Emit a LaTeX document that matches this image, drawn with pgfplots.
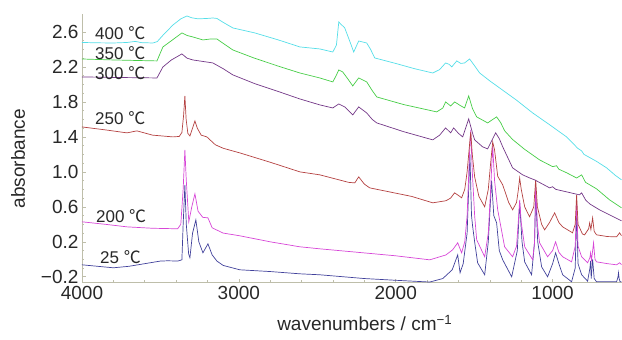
\documentclass[border=0pt]{standalone}
\usepackage{fontspec}
\setmainfont{Liberation Sans}
\newfontfamily\cjk{Noto Sans CJK SC}
\usepackage{pgfplots}
\usepackage{pgfplotstable}
\pgfplotsset{compat=1.18}
\definecolor{c400}{RGB}{85,222,232}
\definecolor{c350}{RGB}{70,205,70}
\definecolor{c300}{RGB}{115,55,135}
\definecolor{c250}{RGB}{180,65,65}
\definecolor{c200}{RGB}{215,70,215}
\definecolor{c25}{RGB}{65,65,155}
\definecolor{axc}{RGB}{190,190,170}
\definecolor{txt}{RGB}{40,40,40}

\pgfplotstableread{
wn a
4000 2.480
3900 2.476
3800 2.474
3713 2.480
3660 2.492
3620 2.478
3548 2.474
3520 2.490
3480 2.570
3420 2.680
3370 2.750
3331 2.783
3300 2.762
3260 2.750
3200 2.755
3166 2.760
3140 2.755
3100 2.710
3038 2.646
2900 2.590
2750 2.510
2611 2.429
2484 2.406
2401 2.371
2378 2.450
2363 2.714
2350 2.690
2325 2.646
2290 2.480
2268 2.371
2236 2.497
2185 2.474
2160 2.400
2134 2.303
2000 2.240
1880 2.180
1764 2.131
1720 2.170
1682 2.246
1660 2.230
1643 2.200
1611 2.269
1585 2.240
1561 2.246
1529 2.291
1500 2.220
1465 2.131
1400 2.040
1338 1.960
1230 1.820
1127 1.674
1020 1.540
911 1.400
840 1.270
815 1.240
800 1.200
720 1.120
656 1.046
600 0.960
561 0.909
}\tblA

\pgfplotstableread{
wn a
4000 2.291
3800 2.280
3600 2.272
3522 2.269
3484 2.429
3430 2.500
3363 2.589
3330 2.560
3293 2.543
3229 2.509
3180 2.520
3140 2.520
3100 2.470
3038 2.394
2900 2.300
2750 2.210
2611 2.131
2484 2.074
2401 2.029
2380 2.100
2363 2.166
2338 2.143
2300 2.050
2274 1.983
2236 2.074
2185 2.029
2150 1.930
2121 1.857
1950 1.770
1739 1.686
1700 1.730
1682 1.800
1650 1.754
1624 1.800
1590 1.760
1561 1.731
1535 1.869
1510 1.720
1484 1.629
1414 1.560
1357 1.629
1330 1.560
1306 1.470
1255 1.370
1180 1.260
1083 1.137
1000 1.060
975 1.070
960 1.030
911 0.990
847 0.930
815 0.966
790 0.880
720 0.806
637 0.680
561 0.589
}\tblB

\pgfplotstableread{
wn a
4000 2.086
3800 2.080
3600 2.076
3522 2.074
3484 2.200
3430 2.280
3363 2.349
3330 2.300
3293 2.280
3166 2.246
3100 2.180
3038 2.109
2900 2.010
2750 1.920
2611 1.834
2484 1.766
2401 1.731
2363 1.777
2325 1.743
2274 1.651
2236 1.743
2185 1.674
2150 1.600
2121 1.560
1950 1.460
1764 1.366
1720 1.420
1682 1.503
1650 1.446
1631 1.503
1600 1.440
1573 1.400
1535 1.606
1510 1.440
1497 1.366
1446 1.286
1414 1.263
1363 1.446
1340 1.380
1318 1.286
1255 1.046
1191 0.966
1147 0.931
1115 0.909
1019 0.817
1000 0.830
980 0.800
828 0.737
815 0.760
790 0.680
764 0.634
701 0.566
561 0.440
}\tblC

\pgfplotstableread{
wn a
4000 1.514
3850 1.480
3713 1.446
3650 1.469
3550 1.420
3420 1.400
3380 1.405
3363 1.450
3352 1.650
3344 1.869
3336 1.600
3325 1.440
3312 1.411
3295 1.500
3280 1.583
3265 1.500
3240 1.420
3204 1.400
3150 1.310
3100 1.270
2994 1.217
2800 1.110
2611 1.000
2484 0.966
2300 0.880
2261 0.874
2236 0.943
2200 0.860
2166 0.817
1900 0.720
1764 0.646
1680 0.670
1650 0.700
1625 0.760
1600 0.730
1580 0.703
1560 0.800
1545 1.000
1530 1.300
1522 1.457
1512 1.200
1497 0.943
1470 0.720
1433 0.600
1410 0.800
1395 1.100
1382 1.343
1370 1.250
1350 0.950
1318 0.851
1280 0.650
1255 0.566
1230 0.650
1218 0.800
1210 0.931
1200 0.800
1178 0.600
1147 0.486
1120 0.600
1108 0.909
1097 0.600
1070 0.400
1051 0.337
1020 0.420
987 0.531
960 0.420
936 0.371
873 0.303
856 0.400
847 0.737
838 0.400
810 0.290
796 0.280
770 0.350
764 0.417
756 0.340
745 0.474
735 0.320
720 0.280
650 0.260
592 0.257
573 0.303
561 0.270
}\tblD

\pgfplotstableread{
wn a
4000 0.429
3850 0.400
3713 0.371
3550 0.355
3390 0.349
3370 0.400
3355 0.800
3344 1.251
3335 0.900
3319 0.429
3300 0.600
3280 0.749
3260 0.550
3230 0.480
3197 0.474
3170 0.360
3100 0.300
2994 0.269
2800 0.200
2611 0.143
2484 0.120
2000 0.040
1783 -0.006
1680 0.050
1637 0.109
1605 0.189
1580 0.074
1560 0.200
1545 0.500
1530 1.200
1522 1.480
1512 1.000
1497 0.500
1484 0.223
1433 0.029
1410 0.300
1395 0.800
1382 1.300
1370 0.900
1350 0.566
1306 0.143
1255 0.029
1230 0.150
1218 0.450
1210 0.680
1200 0.420
1178 0.143
1127 -0.006
1115 0.200
1108 0.829
1097 0.400
1083 0.189
1032 0.029
1000 0.100
981 0.200
960 0.080
936 0.029
879 -0.029
856 0.150
847 0.646
838 0.150
815 0.029
777 -0.040
762 0.020
758 0.074
752 -0.010
739 0.189
730 0.000
720 -0.029
650 -0.050
592 -0.063
573 -0.040
561 -0.060
}\tblE

\pgfplotstableread{
wn a
4000 -0.063
3900 -0.080
3800 -0.097
3700 -0.080
3600 -0.050
3500 -0.020
3452 -0.017
3389 -0.020
3363 -0.006
3355 0.400
3344 0.851
3335 0.400
3320 0.060
3312 0.017
3295 0.300
3274 0.451
3255 0.200
3229 0.074
3197 0.177
3170 0.050
3140 -0.020
3100 -0.070
2994 -0.120
2800 -0.140
2611 -0.166
2484 -0.177
2200 -0.220
2000 -0.240
1783 -0.260
1700 -0.220
1640 -0.120
1605 0.051
1590 -0.154
1570 -0.050
1545 0.300
1527 1.200
1517 0.500
1510 0.380
1497 0.200
1478 -0.040
1433 -0.177
1410 0.200
1389 0.900
1375 0.500
1357 0.417
1340 0.100
1318 -0.006
1261 -0.200
1225 0.100
1210 0.646
1195 0.200
1178 -0.030
1134 -0.177
1115 0.200
1108 0.760
1095 0.200
1070 -0.086
1032 -0.200
1000 -0.050
981 0.074
960 -0.050
936 -0.177
879 -0.257
856 -0.100
847 0.531
838 -0.050
815 -0.177
777 -0.250
762 -0.100
758 -0.017
754 -0.220
745 0.000
735 -0.220
720 -0.257
592 -0.257
583 -0.200
580 -0.154
576 -0.220
570 -0.257
561 -0.257
}\tblF

\begin{document}
\begin{tikzpicture}
\begin{axis}[
  scale only axis, width=540pt, height=268.5pt,
  x dir=reverse, xmin=560, xmax=4000, ymin=-0.269, ymax=2.8,
  axis x line*=bottom, axis y line*=left,
  axis line style={axc, line width=0.7pt},
  xtick={1000,2000,3000,4000}, minor x tick num=4,
  ytick={-0.2,0.2,0.6,1.0,1.4,1.8,2.2,2.6},
  yticklabels={−0.2,0.2,0.6,1.0,1.4,1.8,2.2,2.6},
  minor y tick num=3,
  tick align=inside, major tick length=4pt, minor tick length=2.5pt,
  tick style={axc, line width=0.6pt},
  /pgf/number format/assume math mode=true,
  /pgf/number format/set thousands separator={},
  tick label style={font=\fontsize{19}{19}\selectfont, text=txt},
  xlabel={wavenumbers / cm\textsuperscript{−1}},
  ylabel={absorbance},
  label style={font=\fontsize{19}{19}\selectfont, text=txt},
  xlabel style={at={(axis description cs:0.524,-0.15)}, anchor=center},
  ylabel style={at={(axis description cs:-0.1185,0.463)}, anchor=center},
  every axis plot/.append style={line width=0.7pt, no marks},
  clip=true,
]
\addplot[c25] table[x=wn,y=a] {\tblF};
\addplot[c200] table[x=wn,y=a] {\tblE};
\addplot[c250] table[x=wn,y=a] {\tblD};
\addplot[c300] table[x=wn,y=a] {\tblC};
\addplot[c350] table[x=wn,y=a] {\tblB};
\addplot[c400] table[x=wn,y=a] {\tblA};
\begin{scope}[every node/.style={anchor=west, font=\fontsize{17}{17}\selectfont, text=txt, inner sep=0pt}]
\node at (axis cs:3917,2.59) {400 {\cjk ℃}};
\node at (axis cs:3917,2.36) {350 {\cjk ℃}};
\node at (axis cs:3917,2.131) {300 {\cjk ℃}};
\node at (axis cs:3917,1.617) {250 {\cjk ℃}};
\node at (axis cs:3911,0.497) {200 {\cjk ℃}};
\node at (axis cs:3885,0.029) {25 {\cjk ℃}};
\end{scope}
\coordinate (bbsw) at (rel axis cs:-0.1519,-0.2123);
\coordinate (bbne) at (rel axis cs:1,1.054);
\end{axis}
\path (bbsw) rectangle (bbne);
\end{tikzpicture}
\end{document}
